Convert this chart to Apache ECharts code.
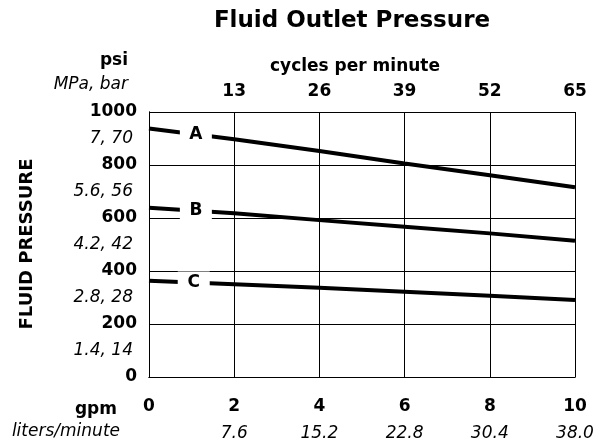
<!DOCTYPE html>
<html>
  <head>
    <meta charset="utf-8" />
    <title>Fluid Outlet Pressure</title>
    <script src="https://cdn.jsdelivr.net/npm/echarts@6/dist/echarts.min.js"></script>
    <style>
      html, body { margin: 0; padding: 0; background: #fff; }
    </style>
  </head>
  <body>
    <div id="main" style="width: 597px; height: 443px"></div>
    <script type="text/javascript">
      // chart data
      var gpm = [0, 2, 4, 6, 8, 10];
      var cyclesLabels = ["", "13", "26", "39", "52", "65"];
      var litersLabels = ["", "7.6", "15.2", "22.8", "30.4", "38.0"];
      var pressureA = [938, 897, 853, 806, 761, 716];
      var pressureB = [639, 618, 592, 567, 542, 514];
      var pressureC = [363, 350, 337, 322, 307, 291];
      var psiTicks = [0, 200, 400, 600, 800, 1000];
      var mpaLabels = ["1.4, 14", "2.8, 28", "4.2, 42", "5.6, 56", "7, 70"];
      var curveNames = ["A", "B", "C"];
      var labelAt = [1.1, 1.1, 1.05];

      var font = "DejaVu Sans";
      var myChart = echarts.init(document.getElementById("main"));

      function pairs(ys) {
        return gpm.map(function (x, i) { return [x, ys[i]]; });
      }
      // y of a curve at a given gpm, read along its own points
      function along(ys, x) {
        for (var i = 0; i < gpm.length - 1; i++) {
          if (x <= gpm[i + 1]) {
            var t = (x - gpm[i]) / (gpm[i + 1] - gpm[i]);
            return ys[i] + t * (ys[i + 1] - ys[i]);
          }
        }
        return ys[ys.length - 1];
      }
      function curve(name, ys, at) {
        return {
          name: name,
          type: "line",
          data: pairs(ys),
          symbol: "none",
          lineStyle: { color: "#000", width: 4 },
          markPoint: {
            symbol: "rect",
            symbolSize: [32, 22],
            itemStyle: { color: "#fff" },
            label: {
              show: true,
              position: "inside",
              formatter: name,
              color: "#000",
              fontFamily: font,
              fontWeight: "bold",
              fontSize: 17
            },
            data: [{ coord: [at, along(ys, at)] }]
          }
        };
      }

      var option = {
        animation: false,
        grid: { left: 149, top: 112, right: 22, bottom: 66, show: false },
        xAxis: [
          {
            type: "value",
            position: "bottom",
            min: 0,
            max: 10,
            interval: 2,
            axisLine: { show: true, lineStyle: { color: "#000", width: 1 } },
            axisTick: { show: false },
            splitLine: { show: true, lineStyle: { color: "#000", width: 1 } },
            axisLabel: {
              margin: 16,
              formatter: function (v) {
                var i = gpm.indexOf(v);
                return "{b|" + v + "}\n{i|" + (litersLabels[i] || " ") + "}";
              },
              rich: {
                b: { fontFamily: font, fontWeight: "bold", fontSize: 17, color: "#000", lineHeight: 27 },
                i: { fontFamily: font, fontStyle: "italic", fontSize: 17, color: "#000", lineHeight: 27 }
              }
            }
          },
          {
            type: "value",
            position: "top",
            min: 0,
            max: 10,
            interval: 2,
            axisLine: { show: true, lineStyle: { color: "#000", width: 1 } },
            axisTick: { show: false },
            splitLine: { show: false },
            axisLabel: {
              margin: 12,
              fontFamily: font,
              fontWeight: "bold",
              fontSize: 17,
              color: "#000",
              formatter: function (v) {
                return cyclesLabels[gpm.indexOf(v)] || "";
              }
            }
          }
        ],
        yAxis: [
          {
            type: "value",
            position: "left",
            min: 0,
            max: 1000,
            interval: 200,
            axisLine: { show: true, lineStyle: { color: "#000", width: 1 } },
            axisTick: { show: false },
            splitLine: { show: true, lineStyle: { color: "#000", width: 1 } },
            axisLabel: {
              margin: 12,
              fontFamily: font,
              fontWeight: "bold",
              fontSize: 17,
              color: "#000",
              formatter: function (v) {
                return psiTicks.indexOf(v) >= 0 ? String(v) : "";
              }
            }
          },
          {
            type: "value",
            position: "right",
            min: 0,
            max: 1000,
            interval: 200,
            axisLine: { show: true, lineStyle: { color: "#000", width: 1 } },
            axisTick: { show: false },
            splitLine: { show: false },
            axisLabel: { show: false }
          },
          {
            type: "value",
            position: "left",
            min: 0,
            max: 1000,
            interval: 100,
            axisLine: { show: false },
            axisTick: { show: false },
            splitLine: { show: false },
            axisLabel: {
              margin: 16,
              fontFamily: font,
              fontStyle: "italic",
              fontSize: 17,
              color: "#000",
              formatter: function (v) {
                if (v % 200 === 0) return "";
                return mpaLabels[(v - 100) / 200] || "";
              }
            }
          }
        ],
        graphic: [
          { type: "text", x: 352, y: 21, style: { text: "Fluid Outlet Pressure", textAlign: "center", textVerticalAlign: "middle", fontFamily: font, fontWeight: "bold", fontSize: 23, fill: "#000" } },
          { type: "text", x: 355, y: 67, style: { text: "cycles per minute", textAlign: "center", textVerticalAlign: "middle", fontFamily: font, fontWeight: "bold", fontSize: 17, fill: "#000" } },
          { type: "text", x: 128, y: 61, style: { text: "psi", textAlign: "right", textVerticalAlign: "middle", fontFamily: font, fontWeight: "bold", fontSize: 17, fill: "#000" } },
          { type: "text", x: 128, y: 85, style: { text: "MPa, bar", textAlign: "right", textVerticalAlign: "middle", fontFamily: font, fontStyle: "italic", fontSize: 17, fill: "#000" } },
          { type: "text", x: 117, y: 410, style: { text: "gpm", textAlign: "right", textVerticalAlign: "middle", fontFamily: font, fontWeight: "bold", fontSize: 17, fill: "#000" } },
          { type: "text", x: 120, y: 432, style: { text: "liters/minute", textAlign: "right", textVerticalAlign: "middle", fontFamily: font, fontStyle: "italic", fontSize: 17, fill: "#000" } },
          { type: "text", x: 27, y: 244, rotation: Math.PI / 2, style: { text: "FLUID PRESSURE", textAlign: "center", textVerticalAlign: "middle", fontFamily: font, fontWeight: "bold", fontSize: 18, fill: "#000" } }
        ],
        series: [
          curve(curveNames[0], pressureA, labelAt[0]),
          curve(curveNames[1], pressureB, labelAt[1]),
          curve(curveNames[2], pressureC, labelAt[2])
        ]
      };

      myChart.setOption(option);
    </script>
  </body>
</html>
